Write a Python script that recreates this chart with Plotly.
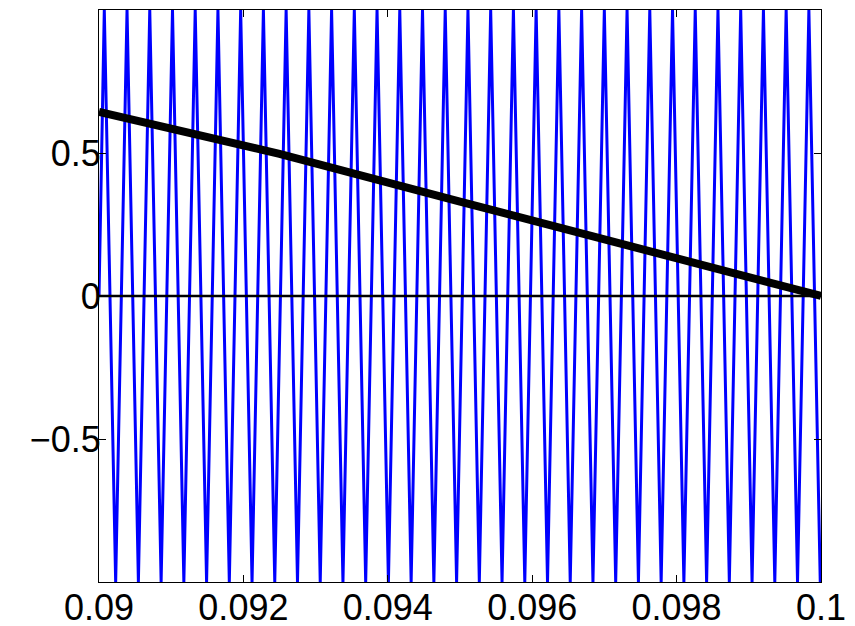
import plotly.graph_objects as go

# Blue oscillation: times of successive maxima (+1) and minima (-1)
peak_t = [0.0900734, 0.0903882, 0.0907030, 0.0910178, 0.0913326, 0.0916474,
          0.0919622, 0.0922770, 0.0925918, 0.0929066, 0.0932214, 0.0935362,
          0.0938510, 0.0941658, 0.0944806, 0.0947954, 0.0951102, 0.0954250,
          0.0957398, 0.0960546, 0.0963694, 0.0966842, 0.0969990, 0.0973138,
          0.0976286, 0.0979434, 0.0982582, 0.0985730, 0.0988878, 0.0992026,
          0.0995174, 0.0998322]
trough_t = [0.0902308, 0.0905456, 0.0908604, 0.0911752, 0.0914900, 0.0918048,
            0.0921196, 0.0924344, 0.0927492, 0.0930640, 0.0933788, 0.0936936,
            0.0940084, 0.0943232, 0.0946380, 0.0949528, 0.0952676, 0.0955824,
            0.0958972, 0.0962120, 0.0965268, 0.0968416, 0.0971564, 0.0974712,
            0.0977860, 0.0981008, 0.0984156, 0.0987304, 0.0990452, 0.0993600,
            0.0996748, 0.0999896]
start_t, start_v = 0.09, 0.0
end_t, end_v = 0.1, -0.98

# Thick black trend line
trend_t = [0.09, 0.0925, 0.095, 0.0975, 0.1]
trend_v = [0.644, 0.497, 0.330, 0.168, 0.0]

# Zero reference line
zero_t = [0.09, 0.1]
zero_v = [0.0, 0.0]

x_ticks = [0.09, 0.092, 0.094, 0.096, 0.098, 0.1]
x_tick_text = ["0.09", "0.092", "0.094", "0.096", "0.098", "0.1"]
y_ticks = [-0.5, 0, 0.5]
y_tick_text = ["\u22120.5", "0", "0.5"]

# Interleave maxima and minima into one zigzag trace
osc_t = [start_t]
osc_v = [start_v]
for p, q in zip(peak_t, trough_t):
    osc_t += [p, q]
    osc_v += [1.0, -1.0]
osc_t.append(end_t)
osc_v.append(end_v)

fig = go.Figure()
fig.add_trace(go.Scatter(x=osc_t, y=osc_v, mode="lines",
                         line=dict(color="#0000FF", width=3)))
fig.add_trace(go.Scatter(x=zero_t, y=zero_v, mode="lines",
                         line=dict(color="black", width=2.5)))
fig.add_trace(go.Scatter(x=trend_t, y=trend_v, mode="lines",
                         line=dict(color="black", width=8)))

font = dict(family="Liberation Sans, Arial, sans-serif", size=36, color="black")
axis_common = dict(showgrid=False, zeroline=False, showline=True,
                   linecolor="black", linewidth=1, mirror="ticks",
                   ticks="inside", ticklen=7, tickcolor="black",
                   tickfont=font, automargin=False)
fig.update_layout(
    width=855, height=626,
    margin=dict(l=99, r=34, t=10, b=44),
    paper_bgcolor="white", plot_bgcolor="white",
    showlegend=False,
    font=font,
    xaxis=dict(range=[0.09, 0.1], tickvals=x_ticks, ticktext=x_tick_text,
               ticklabelstandoff=-6, **axis_common),
    yaxis=dict(range=[-1, 1], tickvals=y_ticks, ticktext=y_tick_text,
               ticklabelstandoff=-10, **axis_common),
)

fig.write_html("out.html")
